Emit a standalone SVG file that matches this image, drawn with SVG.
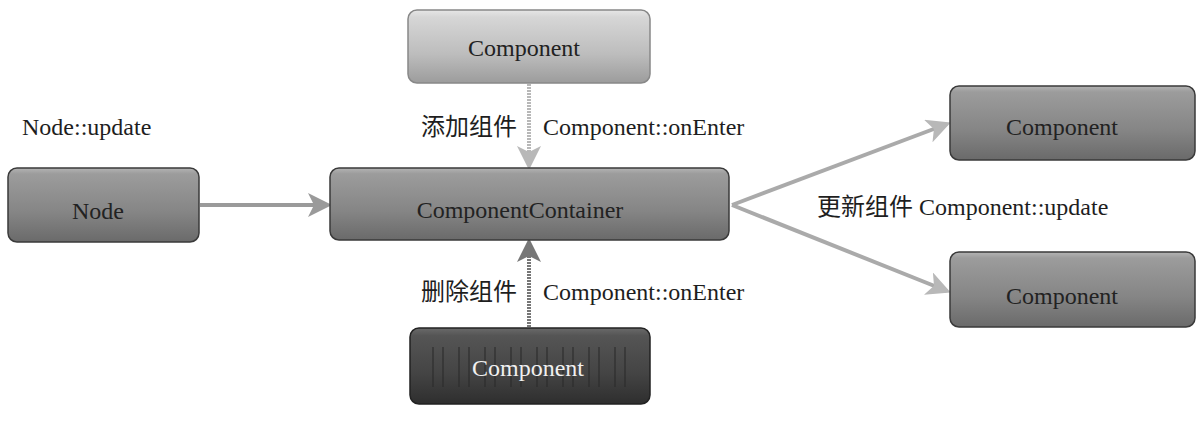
<svg xmlns="http://www.w3.org/2000/svg" width="1200" height="422" viewBox="0 0 1200 422">
<defs>
<linearGradient id="gMid" x1="0" y1="0" x2="0" y2="1">
<stop offset="0" stop-color="#b4b4b4"/>
<stop offset="0.08" stop-color="#9c9c9c"/>
<stop offset="0.6" stop-color="#858585"/>
<stop offset="1" stop-color="#6a6a6a"/>
</linearGradient>
<linearGradient id="gLight" x1="0" y1="0" x2="0" y2="1">
<stop offset="0" stop-color="#e6e6e6"/>
<stop offset="0.1" stop-color="#d6d6d6"/>
<stop offset="0.6" stop-color="#bdbdbd"/>
<stop offset="1" stop-color="#9c9c9c"/>
</linearGradient>
<linearGradient id="gDark" x1="0" y1="0" x2="0" y2="1">
<stop offset="0" stop-color="#6a6a6a"/>
<stop offset="0.1" stop-color="#555"/>
<stop offset="0.6" stop-color="#444"/>
<stop offset="1" stop-color="#2e2e2e"/>
</linearGradient>
<pattern id="stripes" x="430" y="0" width="26" height="10" patternUnits="userSpaceOnUse">
<rect x="2" y="0" width="2" height="10" fill="#2a2a2a"/>
<rect x="12" y="0" width="2" height="10" fill="#2a2a2a"/>
</pattern>
<marker id="ahGray" markerWidth="6" markerHeight="6" refX="5" refY="3" orient="auto" markerUnits="strokeWidth">
<path d="M0,0 L6,3 L0,6 L1.5,3 Z" fill="#9a9a9a"/>
</marker>
<marker id="ahLight" markerWidth="6" markerHeight="6" refX="5" refY="3" orient="auto" markerUnits="strokeWidth">
<path d="M0,0 L6,3 L0,6 L1.5,3 Z" fill="#b8b8b8"/>
</marker>
<marker id="ahDark" markerWidth="6" markerHeight="6" refX="5" refY="3" orient="auto" markerUnits="strokeWidth">
<path d="M0,0 L6,3 L0,6 L1.5,3 Z" fill="#777"/>
</marker>
</defs>
<style>
.box{stroke:#3a3a3a;stroke-width:1.5}
.mid{fill:url(#gMid)}
.light{fill:url(#gLight);stroke:#888}
.dark{fill:url(#gDark);stroke:#222}
.lbl{font-family:"Liberation Serif","Times New Roman",serif;font-size:24px;fill:#1e1e1e}
.cjk{font-family:"Liberation Serif","Noto Sans CJK SC",serif;font-size:24px;fill:#1e1e1e}
.btxt{font-family:"Liberation Serif","Times New Roman",serif;font-size:24px;fill:#222;text-anchor:middle}
.wtxt{fill:#f0f0f0}
.conn{fill:none;stroke-width:4}
</style>
<rect width="1200" height="422" fill="#ffffff"/>

<g id="connectors">
<line class="conn" x1="529" y1="84" x2="529" y2="166" stroke="#b8b8b8" stroke-dasharray="2 1" marker-end="url(#ahLight)"/>
<line class="conn" x1="200" y1="205" x2="328" y2="205" stroke="#9a9a9a" marker-end="url(#ahGray)"/>
<line class="conn" x1="529" y1="327" x2="529" y2="242" stroke="#777" stroke-dasharray="2 1" marker-end="url(#ahDark)"/>
<line class="conn" x1="732" y1="205" x2="947" y2="124" stroke="#aaa" marker-end="url(#ahLight)"/>
<line class="conn" x1="732" y1="205" x2="947" y2="291" stroke="#aaa" marker-end="url(#ahLight)"/>
</g>

<g id="node-top">
<rect class="box light" x="408" y="10" width="242" height="73" rx="9"/>
<text class="btxt" x="524" y="56">Component</text>
</g>

<g id="node-node">
<rect class="box mid" x="8" y="168" width="191" height="74" rx="9"/>
<text class="btxt" x="98" y="219">Node</text>
</g>

<g id="node-container">
<rect class="box mid" x="330" y="168" width="399" height="72" rx="9"/>
<text class="btxt" x="520" y="218">ComponentContainer</text>
</g>

<g id="node-right-top">
<rect class="box mid" x="950" y="86" width="245" height="74" rx="9"/>
<text class="btxt" x="1062" y="135">Component</text>
</g>

<g id="node-right-bottom">
<rect class="box mid" x="950" y="252" width="245" height="75" rx="9"/>
<text class="btxt" x="1062" y="304">Component</text>
</g>

<g id="node-bottom">
<rect class="box dark" x="410" y="328" width="240" height="76" rx="9"/>
<rect x="428" y="347" width="204" height="40" fill="url(#stripes)" opacity="0.55"/>
<text class="btxt wtxt" x="528" y="376">Component</text>
</g>

<g id="labels">
<text class="lbl" x="22" y="135">Node::update</text>
<text class="cjk" x="517" y="135" text-anchor="end">添加组件</text>
<text class="lbl" x="543" y="135">Component::onEnter</text>
<text class="cjk" x="517" y="300" text-anchor="end">删除组件</text>
<text class="lbl" x="543" y="300">Component::onEnter</text>
<text class="cjk" x="817" y="215">更新组件 Component::update</text>
</g>
</svg>
